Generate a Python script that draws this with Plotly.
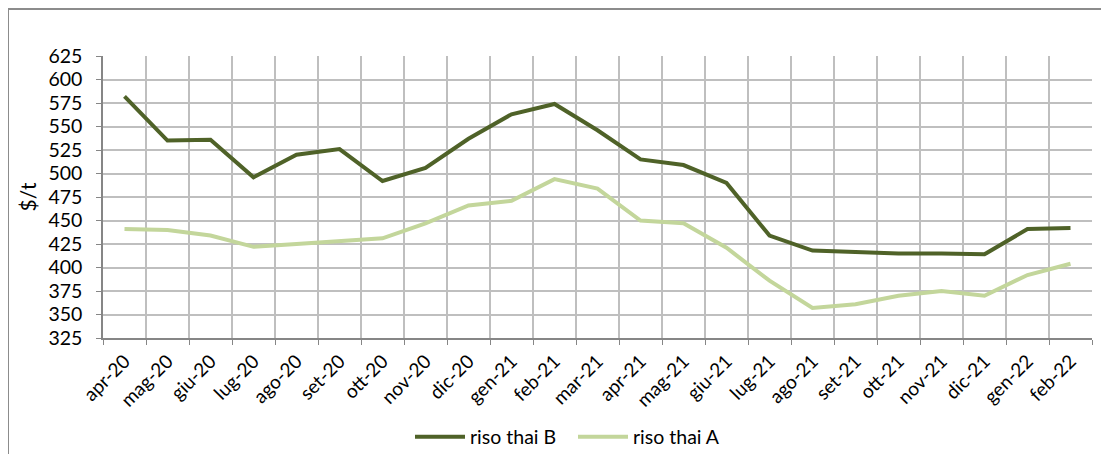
import plotly.graph_objects as go

months = ["apr-20", "mag-20", "giu-20", "lug-20", "ago-20", "set-20", "ott-20", "nov-20",
          "dic-20", "gen-21", "feb-21", "mar-21", "apr-21", "mag-21", "giu-21", "lug-21",
          "ago-21", "set-21", "ott-21", "nov-21", "dic-21", "gen-22", "feb-22"]

riso_thai_b = [582, 535, 536, 496, 520, 526, 492, 506, 537, 563, 574, 546, 515, 509, 490,
               434, 418, 416, 415, 415, 414, 441, 442]
riso_thai_a = [441, 440, 434, 422, 425, 428, 431, 447, 466, 471, 494, 484, 450, 447, 421,
               386, 357, 361, 370, 375, 370, 392, 404]

y_ticks = list(range(325, 626, 25))

FONT = "Lato"
FS = 19.5

fig = go.Figure()
fig.add_trace(go.Scatter(x=months, y=riso_thai_b, mode="lines", name="riso thai B",
                         line=dict(color="#4F6228", width=4)))
fig.add_trace(go.Scatter(x=months, y=riso_thai_a, mode="lines", name="riso thai A",
                         line=dict(color="#C3D69B", width=4)))

# page body has an 8px margin, so figure coords = screen coords - 8
OFF = 8
W, H = 1109 - OFF, 454 - OFF
L, R, T, B = 103 - OFF, 17, 56 - OFF, 116
pw, ph = W - L - R, H - T - B

def px_x(px):
    return (px - OFF - L) / pw

def px_y(py):
    return (H - B - (py - OFF)) / ph

fig.add_shape(type="rect", xref="paper", yref="paper",
              x0=px_x(8), x1=px_x(1108), y0=px_y(470), y1=px_y(9),
              line=dict(color="#8C8C8C", width=2), fillcolor="rgba(0,0,0,0)", layer="below")

fig.update_layout(
    width=W, height=H,
    margin=dict(l=L, r=R, t=T, b=B, autoexpand=False),
    paper_bgcolor="white", plot_bgcolor="white",
    font=dict(family=FONT, size=FS, color="black"),
    showlegend=True,
    legend=dict(orientation="h", x=px_x(410), xanchor="left", y=px_y(437), yanchor="middle",
                font=dict(family=FONT, size=FS), itemwidth=50, tracegroupgap=0,
                entrywidth=98, entrywidthmode="pixels"),
    xaxis=dict(type="category", tickson="boundaries", range=[-0.5, len(months) - 0.5],
               tickangle=-45, showgrid=True, gridcolor="#BFBFBF", gridwidth=1.5,
               showline=True, linecolor="#868686", linewidth=1.5, automargin=False,
               ticks="outside", ticklen=5, tickcolor="#868686", ticklabelstandoff=3,
               tickfont=dict(family=FONT, size=19)),
    yaxis=dict(range=[325, 625], tickvals=y_ticks, showgrid=True, gridcolor="#BFBFBF",
               gridwidth=1.5, showline=True, linecolor="#868686", linewidth=1.5,
               ticks="outside", ticklen=5, tickcolor="#868686", zeroline=False,
               automargin=False, tickfont=dict(family=FONT, size=FS), ticklabelstandoff=10,
               title=dict(text="$/t", font=dict(family=FONT, size=21), standoff=6)),
)

fig.write_html("out.html")
